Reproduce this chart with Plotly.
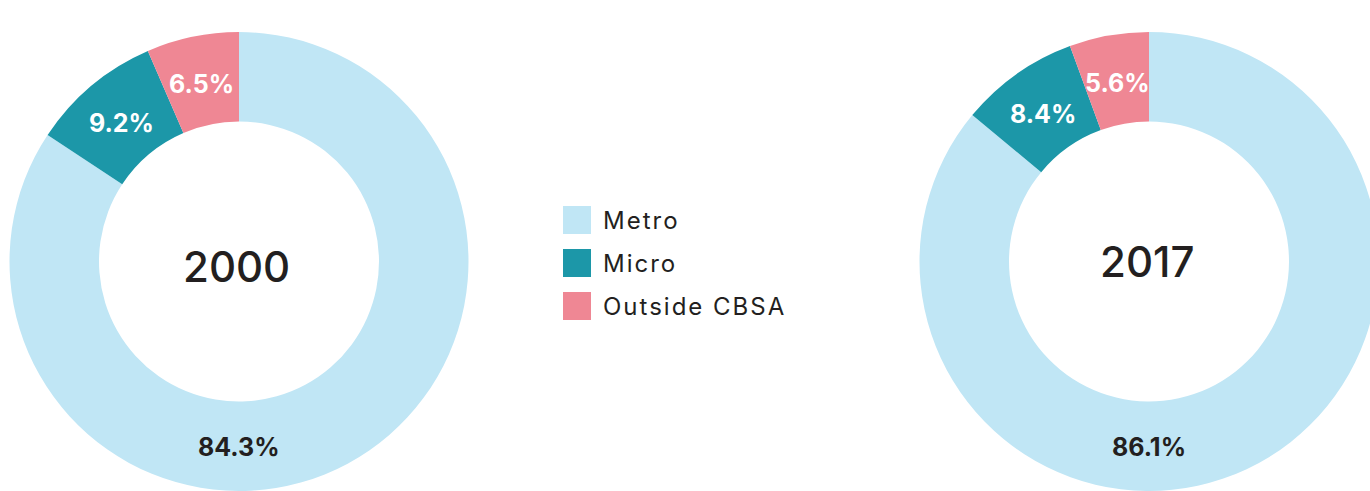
import math
import plotly.graph_objects as go

categories = ["Metro", "Micro", "Outside CBSA"]
years = ["2000", "2017"]
shares_2000 = [84.3, 9.2, 6.5]
shares_2017 = [86.1, 8.4, 5.6]
colors = ["#C0E6F5", "#1C97A8", "#EF8794"]
label_colors = ["#231F20", "white", "white"]
DARK = "#231F20"
FONT = "Inter"

W, H = 1380, 491
R = 229.5
HOLE = 0.61
R_LAB = 183
centers = [(239, 261.5), (1149, 261.5)]          # pie centres, px from left/top
year_pos = [(236.5, 266), (1147, 261.5)]

fig = go.Figure()
for year, vals, (cx, cy), (yx, yy) in zip(years, [shares_2000, shares_2017], centers, year_pos):
    dom_x = [(cx - R) / W, (cx + R) / W]
    dom_y = [max(0, 1 - (cy + R) / H), 1 - (cy - R) / H]
    fig.add_trace(go.Pie(
        labels=categories, values=vals, sort=False, direction="clockwise", rotation=0,
        hole=HOLE, domain=dict(x=dom_x, y=dom_y),
        marker=dict(colors=colors, line=dict(width=0)),
        textinfo="none", showlegend=False, hoverinfo="label+value",
    ))
    fig.add_annotation(x=yx / W, y=1 - yy / H, xref="paper", yref="paper", text=year,
                       showarrow=False, xanchor="center", yanchor="middle",
                       font=dict(family=FONT, size=42, color=DARK, weight=500))
    # slice labels: mid-angle of each slice (Metro label sits at the bottom)
    total = sum(vals)
    cum = 0.0
    for i, v in enumerate(vals):
        mid = (cum + v / 2) / total * 360
        cum += v
        ang = 180.0 if i == 0 else mid
        a = math.radians(ang)
        px = cx + R_LAB * math.sin(a)
        py = cy - R_LAB * math.cos(a) + 2
        fig.add_annotation(x=px / W, y=1 - py / H, xref="paper", yref="paper",
                           text=f"{v:.1f}%", showarrow=False, xanchor="center", yanchor="middle",
                           font=dict(family=FONT, size=25, color=label_colors[i], weight=700))

# custom legend
lx0, ly0, sq, pitch = 563, 206, 28, 43
for i, (cat, col) in enumerate(zip(categories, colors)):
    top = ly0 + i * pitch
    fig.add_shape(type="rect", xref="paper", yref="paper",
                  x0=lx0 / W, x1=(lx0 + sq) / W, y0=1 - (top + sq) / H, y1=1 - top / H,
                  fillcolor=col, line=dict(width=0))
    fig.add_annotation(x=601 / W, y=1 - (top + sq / 2) / H, xref="paper", yref="paper",
                       text=f'<span style="letter-spacing:2px">{cat}</span>',
                       showarrow=False, xanchor="left", yanchor="middle",
                       font=dict(family=FONT, size=24, color=DARK, weight=400))

fig.update_layout(width=W, height=H, margin=dict(l=0, r=0, t=0, b=0),
                  paper_bgcolor="white", plot_bgcolor="white", showlegend=False)

fig.write_html("out.html", config={"displayModeBar": False},
               post_script="document.body.style.margin='0';document.body.style.overflow='hidden';")
